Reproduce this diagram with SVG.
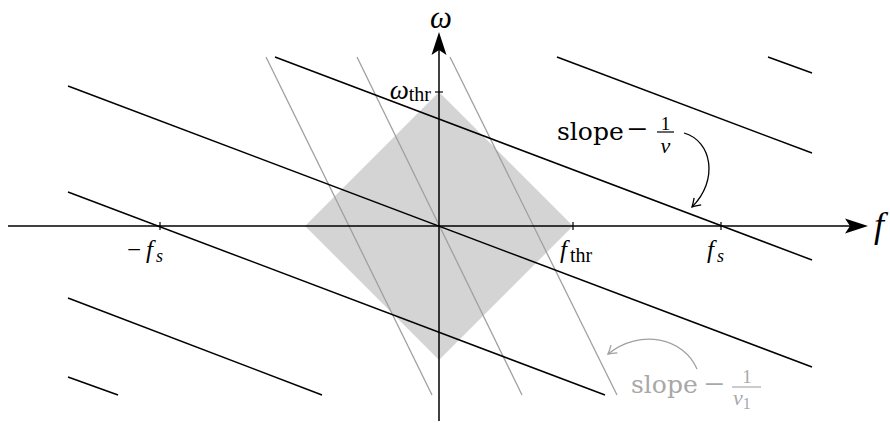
<svg xmlns="http://www.w3.org/2000/svg" width="890" height="423" viewBox="0 0 890 423">
<style>
  .blk{stroke:#000;stroke-width:1.5;fill:none;stroke-linecap:butt}
  .gry{stroke:#a0a0a0;stroke-width:1.3;fill:none}
  .axis{stroke:#000;stroke-width:1.5;fill:none}
  .tick{stroke:#000;stroke-width:1.2}
  .m{font-family:"Liberation Serif","Times New Roman",serif;fill:#000}
  .it{font-style:italic}
  .sl{font-family:"DejaVu Serif","Liberation Serif",serif;font-size:25px}
  .g{fill:#a8a8a8}
</style>
<defs>
  <marker id="toB" markerUnits="userSpaceOnUse" markerWidth="14" markerHeight="14" viewBox="-10 -7 12 14" refX="0" refY="0" orient="auto">
    <path d="M-8,-5 Q-3,-1.5 0,0 Q-3,1.5 -8,5" fill="none" stroke="#000" stroke-width="1.3"/>
  </marker>
  <marker id="toG" markerUnits="userSpaceOnUse" markerWidth="14" markerHeight="14" viewBox="-10 -7 12 14" refX="0" refY="0" orient="auto">
    <path d="M-8,-5 Q-3,-1.5 0,0 Q-3,1.5 -8,5" fill="none" stroke="#a0a0a0" stroke-width="1.3"/>
  </marker>
</defs>

<g id="passband">
  <polygon points="305,226 439,92 573,226 439,360" fill="#d4d4d4"/>
</g>

<g id="gray-lines">
  <line class="gry" x1="266" y1="57" x2="432" y2="395"/>
  <line class="gry" x1="357" y1="57" x2="522" y2="395"/>
  <line class="gry" x1="450" y1="57" x2="617" y2="395"/>
</g>

<g id="black-lines">
  <line class="blk" x1="768" y1="57" x2="812" y2="73"/>
  <line class="blk" x1="557" y1="57" x2="812" y2="153"/>
  <line class="blk" x1="275" y1="57" x2="812" y2="260"/>
  <line class="blk" x1="68" y1="86" x2="812" y2="367"/>
  <line class="blk" x1="68" y1="192" x2="605" y2="395"/>
  <line class="blk" x1="68" y1="298" x2="322" y2="395"/>
  <line class="blk" x1="68" y1="377" x2="118" y2="395"/>
</g>

<g id="axes">
  <line class="axis" x1="8" y1="226" x2="852" y2="226"/>
  <path d="M868,226 L845,218.5 L850,226 L845,233.5 Z" fill="#000"/>
  <line class="axis" x1="439" y1="421" x2="439" y2="45"/>
  <path d="M439,32 L431.5,55 L439,50 L446.5,55 Z" fill="#000"/>
  <line class="tick" x1="160" y1="222" x2="160" y2="230"/>
  <line class="tick" x1="573" y1="222" x2="573" y2="230"/>
  <line class="tick" x1="721" y1="222" x2="721" y2="230"/>
  <line class="tick" x1="435" y1="92" x2="443" y2="92"/>
</g>

<g id="axis-labels">
  <text class="m it" x="441" y="28" font-size="31" text-anchor="middle">ω</text>
  <text class="m it" x="874" y="237" font-size="36">f</text>
  <text class="m" x="431" y="99" text-anchor="end"><tspan class="it" font-size="27">ω</tspan><tspan font-size="20" dy="2">thr</tspan></text>
  <text class="m" x="127" y="258" font-size="25">−<tspan class="it" dx="5">f</tspan><tspan class="it" font-size="18" dx="3" dy="4">s</tspan></text>
  <text class="m" x="560" y="258" font-size="25"><tspan class="it">f</tspan><tspan font-size="20" dx="3" dy="4">thr</tspan></text>
  <text class="m" x="707" y="258" font-size="25"><tspan class="it">f</tspan><tspan class="it" font-size="18" dx="3" dy="4">s</tspan></text>
</g>

<g id="slope-v">
  <text class="sl" x="557" y="140">slope</text>
  <text class="m" x="627" y="141" font-size="36">−</text>
  <text class="m" x="665.5" y="130" font-size="19" text-anchor="middle">1</text>
  <line x1="657" y1="132" x2="674" y2="132" stroke="#000" stroke-width="1.2"/>
  <text class="m it" x="665.5" y="153" font-size="22" text-anchor="middle">v</text>
</g>

<g id="slope-v1">
  <text class="sl g" x="631" y="393">slope</text>
  <text class="m g" x="704" y="396" font-size="36">−</text>
  <text class="m g" x="747" y="383" font-size="19" text-anchor="middle">1</text>
  <line x1="732" y1="387" x2="761" y2="387" stroke="#a8a8a8" stroke-width="1.2"/>
  <text class="m g" x="733" y="405" font-size="22"><tspan class="it">v</tspan><tspan font-size="16" dy="4">1</tspan></text>
</g>

<g id="connectors">
  <path d="M684,133 C712,141 719,180 692,207" fill="none" stroke="#000" stroke-width="1.3" marker-end="url(#toB)"/>
  <path d="M697,369 C684,338 640,328 608,354" fill="none" stroke="#a0a0a0" stroke-width="1.3" marker-end="url(#toG)"/>
</g>
</svg>
